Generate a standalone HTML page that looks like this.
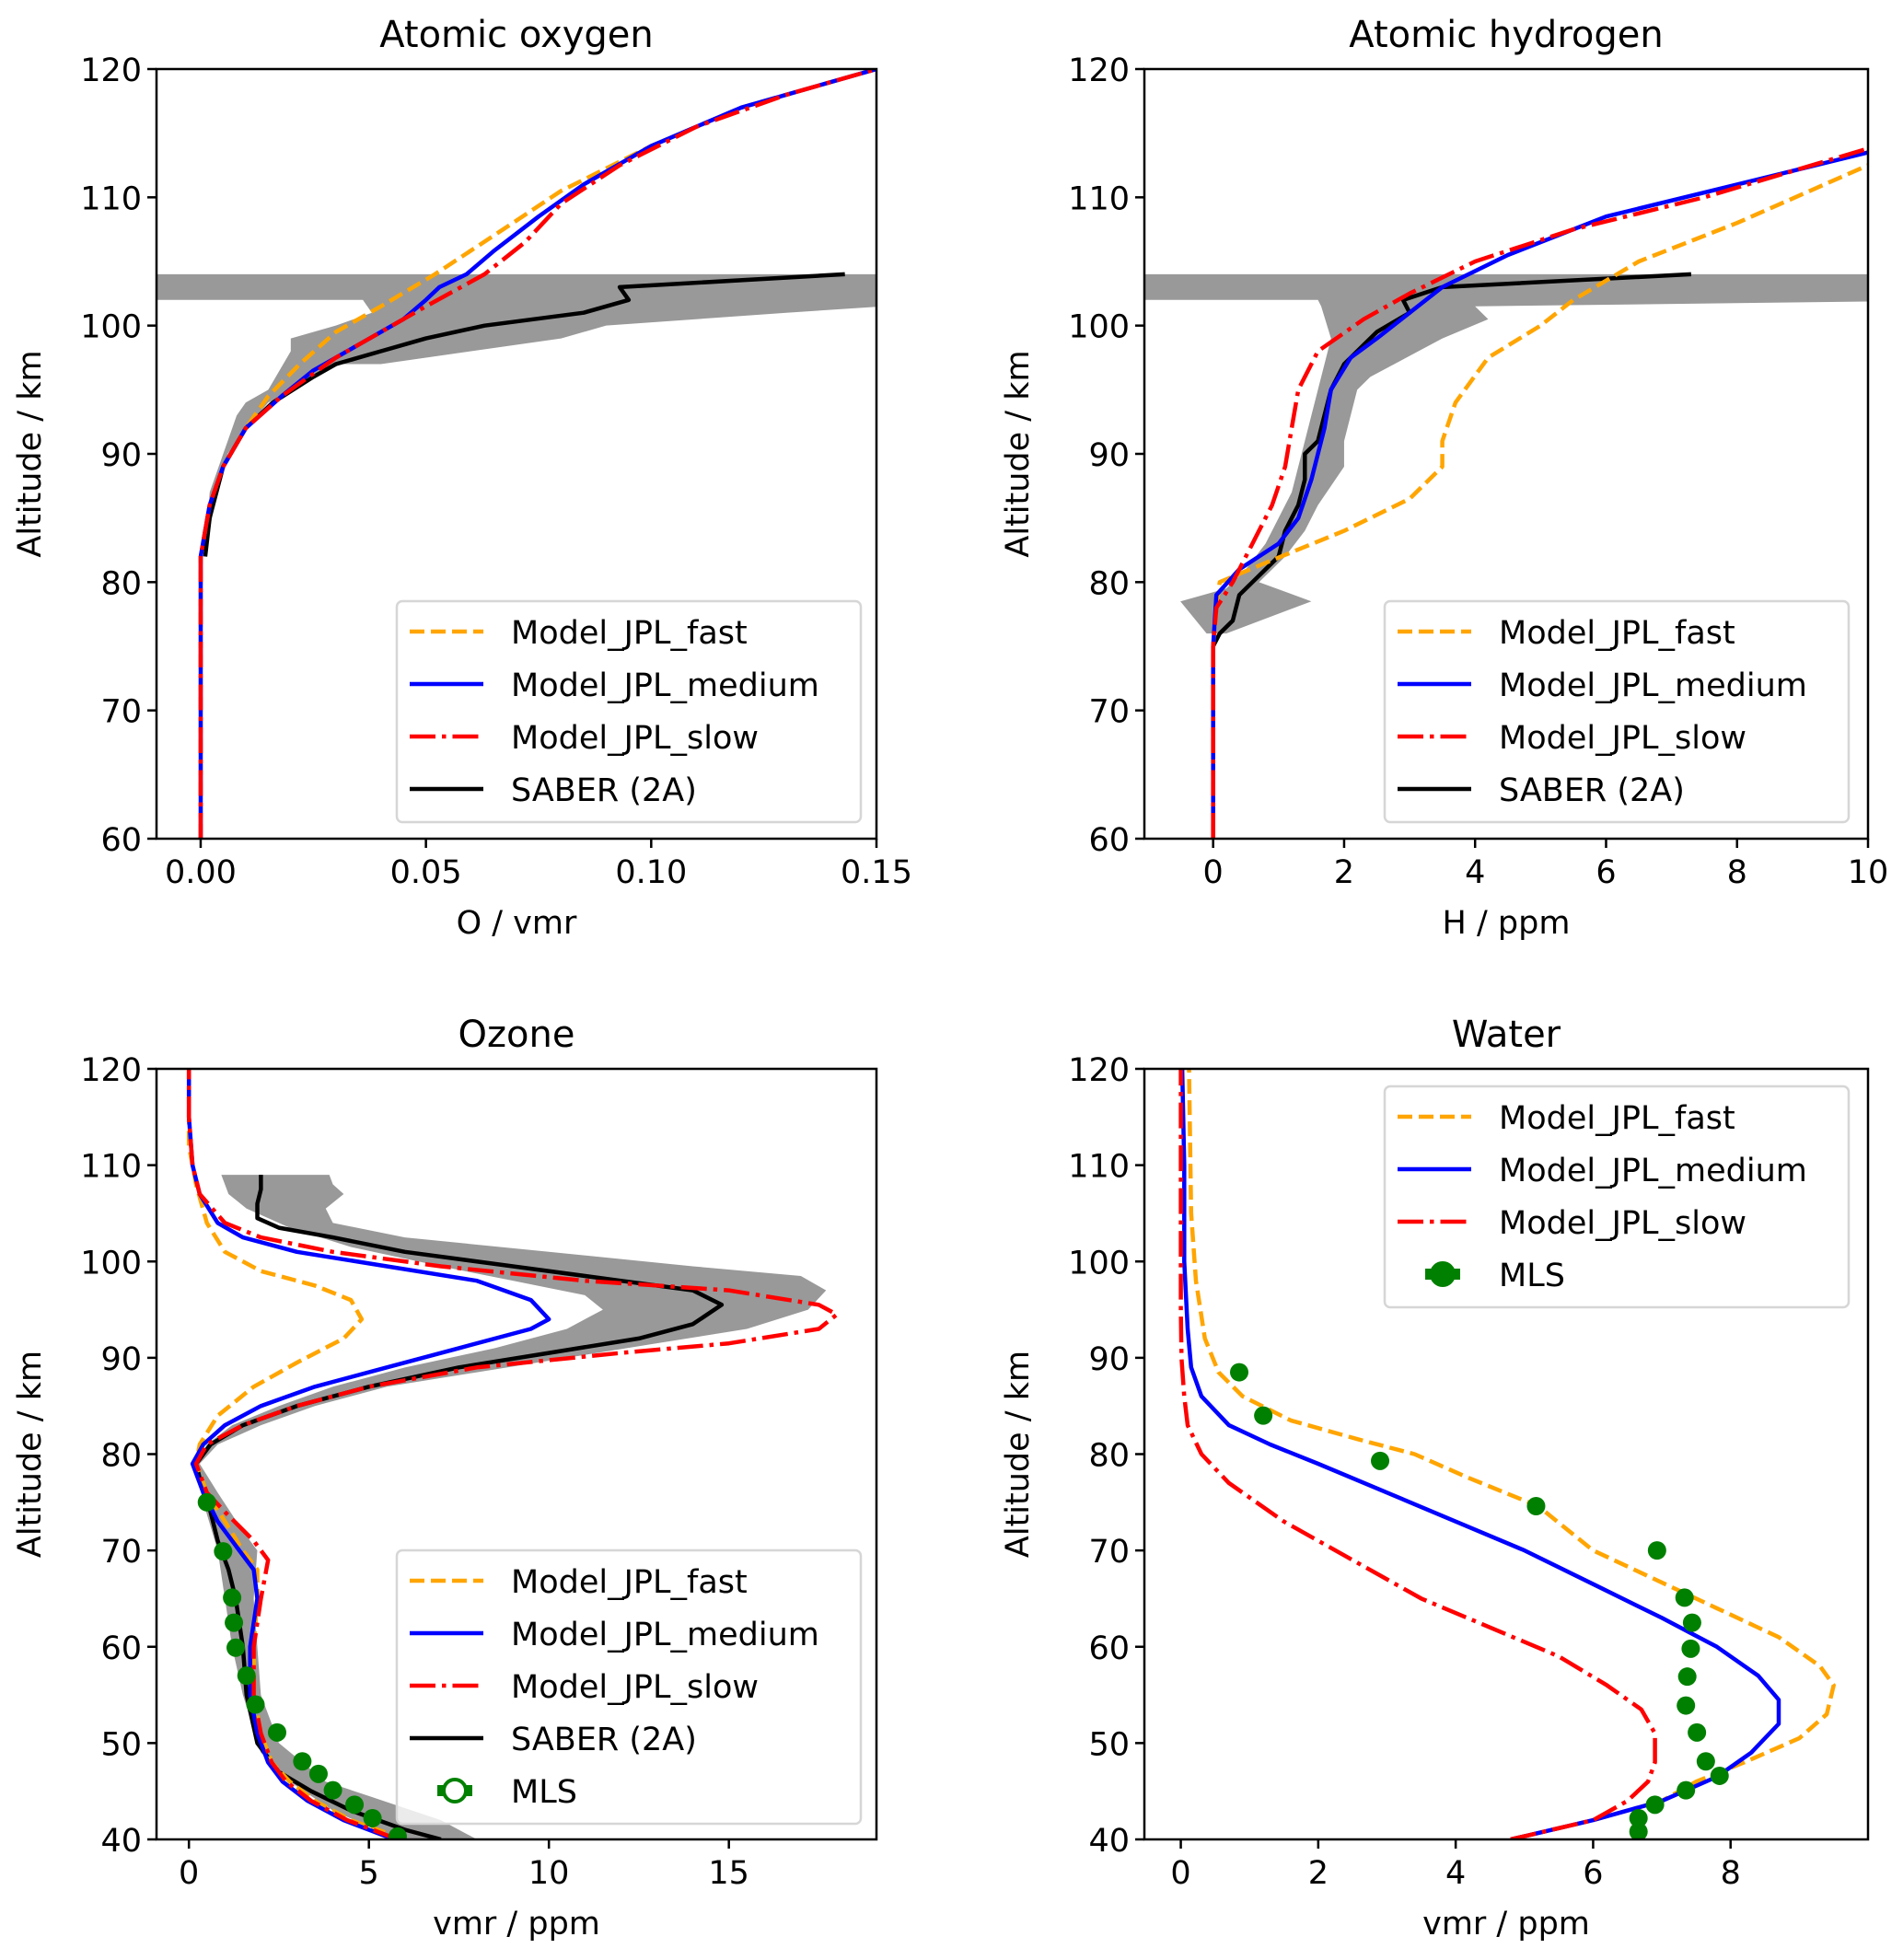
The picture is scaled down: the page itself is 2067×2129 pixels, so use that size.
<!DOCTYPE html>
<html><head><meta charset="utf-8"><style>
body{margin:0;background:#fff}
svg{display:block;font-family:"DejaVu Sans","Liberation Sans",sans-serif}
</style></head><body>
<svg id="fig" width="2067" height="2129" viewBox="0 0 2067 2129" xmlns="http://www.w3.org/2000/svg"></svg>
<script>
// ---- Atomic oxygen (O vmr) ----
const oFastX=[0,0,0.002,0.005,0.01,0.015,0.022,0.03,0.04,0.052,0.065,0.08,0.1,0.12,0.15];
const oFastY=[60,82,86,89,92,94.5,97,99.5,101.5,104,107,110.5,114,117,120];
const oMedX=[0,0,0.002,0.005,0.01,0.018,0.025,0.035,0.045,0.05,0.053,0.059,0.065,0.075,0.085,0.1,0.12,0.15];
const oMedY=[60,82,86,89,92,94.5,96.5,98.5,100.5,102,103,104,105.8,108.5,111,114,117,120];
const oSlowX=[0,0,0.002,0.005,0.01,0.018,0.03,0.04,0.05,0.063,0.072,0.08,0.093,0.11,0.13,0.15];
const oSlowY=[60,82,86,89,92,94.5,97.5,99.5,101.5,104,106.5,109.5,112.5,115.5,118,120];
const oSabX=[0.001,0.002,0.005,0.01,0.016,0.025,0.03,0.04,0.05,0.063,0.085,0.095,0.093,0.143];
const oSabY=[82,85,89,92,94,96,97,98,99,100,101,102,103,104];
const oBandLoX=[0.001,0.003,0.006,0.01,0.015,0.025,0.03,0.04,0.06,0.08,0.09,0.13,0.16,0.16];
const oBandLoY=[82,86,90,92,94,96,97,97,98,99,100,101,101.7,104];
const oBandHiX=[-0.05,-0.05,0.036,0.038,0.03,0.025,0.02,0.02,0.015,0.01,0.008,0.005,0.002,0.001];
const oBandHiY=[104,102,102,101,100,99.5,99,98,95,94,93,90,87,82];
// ---- Atomic hydrogen (H ppm) ----
const hFastX=[0,0,0.05,0.1,0.8,2,3,3.5,3.5,3.7,4.2,5,5.5,6.5,8,10];
const hFastY=[60,75,78,80,81.5,84,86.5,89,91,94,97.5,100,102,105,108,112.5];
const hMedX=[0,0,0.05,0.4,1,1.3,1.5,1.7,1.8,2.1,2.5,3,3.5,4.5,6,8,10];
const hMedY=[60,75,79,81,83,85,88,92,95,97.5,99,101,103,105.5,108.5,111,113.5];
const hSlowX=[0,0,0.05,0.3,0.6,0.9,1.1,1.2,1.3,1.6,2.3,3,4,5.5,7.5,10];
const hSlowY=[60,75,78,80,83,86,89,92,95,98,100.5,102.5,105,107.5,110,113.8];
const hSabX=[0,0.1,0.3,0.4,0.6,0.8,1,1.1,1.3,1.4,1.4,1.6,1.7,1.8,2,2.2,2.5,3,2.9,3.5,7.3];
const hSabY=[75,76,77,79,80,81,82,84,86,88,90,91,93,95,97,98,99.5,101,102,103,104];
const hBandLoX=[-0.1,-0.5,0.2,0.5,0.8,1.0,1.2,1.3,1.4,1.5,1.6,1.7,1.8,1.65,1.6,-2,-2];
const hBandLoY=[76,78.5,79.5,81,83,85,87,89,91,93,95,97,99,101.5,102,102,104];
const hBandHiX=[12,12,4.0,4.2,3.5,2.4,2.2,2.1,2.0,2.0,1.6,1.4,1.1,0.7,1.5,0.2];
const hBandHiY=[104,102,101.5,100.5,99,96,95,93,91,89,86,84,82,80,78.5,76];
// ---- Ozone (ppm) ----
const zFastX=[6,4.5,3.5,2.8,2.3,2,1.8,1.8,1.9,1.9,1.5,1,0.5,0.2,0.3,0.8,1.8,3,4.3,4.8,4.5,3.5,2,1,0.5,0.2,0,0];
const zFastY=[40,42,44,46,48,51,55,60,65,68,70,73,76,79,81,84,87,89.5,92,94,96,97.5,99,101,104,108,112,120];
const zMedX=[5.7,4.3,3.3,2.6,2.2,1.9,1.7,1.7,1.9,1.8,1.4,0.8,0.4,0.1,0.4,1.0,2,3.5,5.5,7.5,9.5,10,9.5,8,5.5,3,1.5,0.8,0.3,0.1,0,0];
const zMedY=[40,42,44,46,48,51,55,60,65,68,70,73,76,79,81,83,85,87,89,91,93,94,96,98,99.5,101,102.5,104,107,110,115,120];
const zSlowX=[5.8,4.4,3.4,2.7,2.3,2,1.8,1.8,2,2.2,1.8,1,0.5,0.2,0.5,1.5,3,5,8,12,15,17.5,18,17.5,15,11,7,4,2,1,0.3,0.1,0,0];
const zSlowY=[40,42,44,46,48,51,55,60,65,69,71,74,76,79,81,83,85,87,89,90.5,91.5,93,94.5,95.5,97,98,99.5,101,102.5,104,107,110,115,120];
const zSabX=[7,6,4.5,3.4,2.5,1.9,1.6,1.5,1.3,1.1,0.8,0.6,0.4,0.2,0.6,1.5,3,5,7.5,10,12.5,14,14.8,14,12,9,6,4,2.5,1.9,1.9,2,2];
const zSabY=[40,41,43,45,47,50,55,60,65,68,71,74,76,79,81,83,85,87,89,90.5,92,93.5,95.5,97,98,99.5,101,102.5,103.5,104.5,106,107.5,109];
const zBandLoX=[5.8,4,2.8,2,1.5,1.2,1,0.8,0.4,0.2,0.5,1.2,2.5,4,6,8.5,10.5,11.5,11,9,7,4.5,2.8,2.2,1.6,1.1,0.9];
const zBandLoY=[40,43,46,49,55,60,65,70,75,79,81,83,85,87,89,91,93,95,96.5,98,99.5,101.5,103.5,104.5,105.5,107,109];
const zBandHiX=[3.9,4,4.3,3.8,4,6,10,14,17,17.7,17.2,15.5,13,10.5,8,5.5,3.5,2,0.8,0.3,0.8,1.5,1.9,1.8,1.9,2,2.5,3.8,5,7,8];
const zBandHiY=[109,108,107,105.5,104,102.5,101,99.5,98.5,97,95,93,91.5,90,88.5,87,85,83,81,79,76,72,70,65,60,55,50,46,44.5,42,40];
const zMlsX=[0.5,0.95,1.2,1.25,1.3,1.6,1.85,2.45,3.15,3.6,4.0,4.6,5.1,5.8];
const zMlsY=[75,69.9,65.1,62.5,59.9,57,54,51.1,48.1,46.8,45.1,43.6,42.2,40.3];
// ---- Water (ppm) ----
const wFastX=[4.8,6,7,7.5,8.2,9,9.4,9.5,9.3,8.7,7.8,6.9,6,5.2,4.2,3.4,2.6,1.6,0.9,0.55,0.35,0.22,0.15,0.12];
const wFastY=[40,42,44,46,48,50.5,53,56,58,61,64,67,70,74.6,77.5,80,81.5,83.5,86,88.5,92,98,105,120];
const wMedX=[4.8,6,7,7.8,8.3,8.7,8.7,8.4,7.8,7,6,5,4,3,2,1.3,0.7,0.3,0.15,0.1,0.05,0.05,0.02];
const wMedY=[40,42,44,46.5,49,52,54.5,57,60,63,66.5,70,73,76,79,81,83,86,89,93,100,110,120];
const wSlowX=[4.8,6,6.5,6.8,6.9,6.9,6.7,6.2,5.5,4.5,3.5,2.5,1.5,0.7,0.3,0.1,0.05,0.01,0,0];
const wSlowY=[40,42,44,46,48,51,53.5,56,59,62,65,69,73,77,80,83,86,90,95,120];
const wMlsX=[0.85,1.2,2.9,5.17,6.93,7.33,7.44,7.42,7.37,7.35,7.51,7.64,7.84,7.35,6.9,6.66,6.66];
const wMlsY=[88.5,84,79.3,74.6,70,65.1,62.5,59.8,56.9,53.9,51.1,48.1,46.6,45.1,43.6,42.2,40.8];

const xTicksO=[0,0.05,0.1,0.15], xTickLblO=["0.00","0.05","0.10","0.15"];
const xTicksH=[0,2,4,6,8,10], xTicksZ=[0,5,10,15], xTicksW=[0,2,4,6,8];
const yTicksTop=[60,70,80,90,100,110,120], yTicksBot=[40,50,60,70,80,90,100,110,120];

const NS="http://www.w3.org/2000/svg";
const svg=document.getElementById('fig');
function mk(tag,attrs,parent){const e=document.createElementNS(NS,tag);for(const k in attrs)e.setAttribute(k,attrs[k]);(parent||svg).appendChild(e);return e;}
const STY={fast:{stroke:'#ffa500',dash:'16,7'},medium:{stroke:'#0000ff',dash:''},slow:{stroke:'#ff0000',dash:'28,7,4.5,7'},saber:{stroke:'#000000',dash:''}};

function panel(p){
  const g=mk('g',{});
  
  
  const sx=v=>p.L+(v-p.xmin)/(p.xmax-p.xmin)*(p.R-p.L);
  const sy=v=>p.B-(v-p.ymin)/(p.ymax-p.ymin)*(p.B-p.T);
  const cid='clip-'+p.name;
  const cp=mk('clipPath',{id:cid},g);mk('rect',{x:p.L,y:p.T,width:p.R-p.L,height:p.B-p.T},cp);
  const plot=mk('g',{'clip-path':'url(#'+cid+')'},g);
  if(p.band){
    const pts=[];p.band[0].forEach((x,i)=>pts.push(sx(x)+','+sy(p.band[1][i])));
    p.band[2].forEach((x,i)=>pts.push(sx(x)+','+sy(p.band[3][i])));
    const b=mk('polygon',{points:pts.join(' '),fill:'#999999',stroke:'none'},plot);
    
    
  }
  p.lines.forEach(l=>{
    const s=STY[l.k];
    const d=l.x.map((x,i)=>(i?'L':'M')+sx(x).toFixed(1)+','+sy(l.y[i]).toFixed(1)).join('');
    const e=mk('path',{d:d,fill:'none',stroke:s.stroke,'stroke-width':4.5,'stroke-dasharray':s.dash,'stroke-linejoin':'round'},plot);
    
    
  });
  if(p.mls){p.mls[0].forEach((x,i)=>{
    const c=mk('circle',{cx:sx(x),cy:sy(p.mls[1][i]),r:10,fill:'#008000'},plot);
    
    
  });}
  const fr=mk('rect',{x:p.L,y:p.T,width:p.R-p.L,height:p.B-p.T,fill:'none',stroke:'#000','stroke-width':2.5},g);
  
  
  p.xt.forEach((v,i)=>{
    const X=sx(v);mk('line',{x1:X,x2:X,y1:p.B,y2:p.B+10,stroke:'#000','stroke-width':2.5},g);
    const t=mk('text',{x:X,y:p.B+48,'font-size':35,'text-anchor':'middle',fill:'#000'},g);
    t.textContent=p.xl?p.xl[i]:String(v);
    
    
  });
  p.yt.forEach(v=>{
    const Y=sy(v);mk('line',{x1:p.L-10,x2:p.L,y1:Y,y2:Y,stroke:'#000','stroke-width':2.5},g);
    const t=mk('text',{x:p.L-16,y:Y+13,'font-size':35,'text-anchor':'end',fill:'#000'},g);
    t.textContent=String(v);
    
    
  });
  const ti=mk('text',{x:(p.L+p.R)/2,y:p.T-24,'font-size':40,'text-anchor':'middle',fill:'#000'},g);
  ti.textContent=p.title;
  
  
  const xl=mk('text',{x:(p.L+p.R)/2,y:p.B+103,'font-size':35,'text-anchor':'middle',fill:'#000'},g);
  xl.textContent=p.xlabel;
  
  
  const yc=(p.T+p.B)/2, yx=p.L-126;
  const yl=mk('text',{x:yx,y:yc,'font-size':35,'text-anchor':'middle',fill:'#000',transform:'rotate(-90 '+yx+' '+yc+')'},g);
  yl.textContent='Altitude / km';
  
  
  const lg=mk('g',{},g);
  
  
  const n=p.leg.length;
  mk('rect',{x:p.lx,y:p.ly,width:504,height:n*57+12,rx:6,fill:'#fff','fill-opacity':0.8,stroke:'#d6d6d6','stroke-width':2.5},lg);
  p.leg.forEach((it,i)=>{
    const Y=p.ly+33+i*57;
    const e=mk('g',{},lg);
    
    
    if(it[0]==='mls'){
      mk('rect',{x:p.lx+44,y:Y-6,width:38,height:12,fill:'#008000'},e);
      mk('circle',{cx:p.lx+63,cy:Y,r:12,fill:p.mlsOpen?'#fff':'#008000',stroke:'#008000','stroke-width':4},e);
    } else {
      const s=STY[it[0]];
      mk('line',{x1:p.lx+14,x2:p.lx+94,y1:Y,y2:Y,stroke:s.stroke,'stroke-width':4.5,'stroke-dasharray':s.dash},e);
    }
    const t=mk('text',{x:p.lx+124,y:Y+13,'font-size':35,fill:'#000'},e);
    t.textContent=it[1];
  });
}
const L4=[['fast','Model_JPL_fast'],['medium','Model_JPL_medium'],['slow','Model_JPL_slow'],['saber','SABER (2A)']];
panel({name:'atomic-oxygen',title:'Atomic oxygen',xlabel:'O / vmr',L:170,R:952,T:75,B:911,xmin:-0.0098,xmax:0.15,ymin:60,ymax:120,
  xt:xTicksO,xl:xTickLblO,yt:yTicksTop,band:[oBandLoX,oBandLoY,oBandHiX,oBandHiY],
  lines:[{k:'saber',x:oSabX,y:oSabY},{k:'fast',x:oFastX,y:oFastY},{k:'medium',x:oMedX,y:oMedY},{k:'slow',x:oSlowX,y:oSlowY}],
  lx:431,ly:653,leg:L4});
panel({name:'atomic-hydrogen',title:'Atomic hydrogen',xlabel:'H / ppm',L:1243,R:2029,T:75,B:911,xmin:-1.05,xmax:10,ymin:60,ymax:120,
  xt:xTicksH,yt:yTicksTop,band:[hBandLoX,hBandLoY,hBandHiX,hBandHiY],
  lines:[{k:'saber',x:hSabX,y:hSabY},{k:'fast',x:hFastX,y:hFastY},{k:'medium',x:hMedX,y:hMedY},{k:'slow',x:hSlowX,y:hSlowY}],
  lx:1504,ly:653,leg:L4});
panel({name:'ozone',title:'Ozone',xlabel:'vmr / ppm',L:170,R:952,T:1161,B:1998,xmin:-0.9,xmax:19.1,ymin:40,ymax:120,
  xt:xTicksZ,yt:yTicksBot,band:[zBandLoX,zBandLoY,zBandHiX,zBandHiY],mls:[zMlsX,zMlsY],mlsOpen:true,
  lines:[{k:'saber',x:zSabX,y:zSabY},{k:'fast',x:zFastX,y:zFastY},{k:'medium',x:zMedX,y:zMedY},{k:'slow',x:zSlowX,y:zSlowY}],
  lx:431,ly:1684,leg:L4.concat([['mls','MLS']])});
panel({name:'water',title:'Water',xlabel:'vmr / ppm',L:1243,R:2029,T:1161,B:1998,xmin:-0.53,xmax:10,ymin:40,ymax:120,
  xt:xTicksW,yt:yTicksBot,mls:[wMlsX,wMlsY],
  lines:[{k:'fast',x:wFastX,y:wFastY},{k:'medium',x:wMedX,y:wMedY},{k:'slow',x:wSlowX,y:wSlowY}],
  lx:1504,ly:1180,leg:[L4[0],L4[1],L4[2],['mls','MLS']]});
</script>
</body></html>
